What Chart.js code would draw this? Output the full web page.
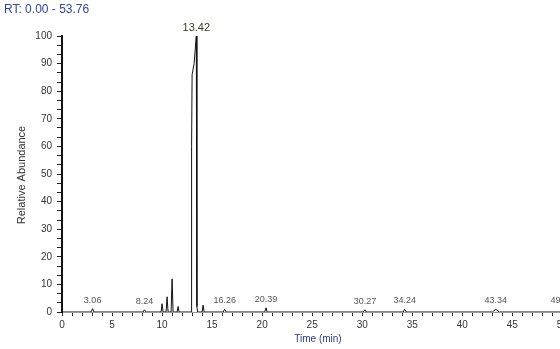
<!DOCTYPE html>
<html>
<head>
<meta charset="utf-8">
<script src="https://cdn.jsdelivr.net/npm/chart.js@4/dist/chart.umd.min.js"></script>
<style>
  html, body { margin: 0; padding: 0; background: #fff; }
  .wrap { width: 560px; height: 349px; overflow: hidden; position: relative; }
  canvas { display: block; }
</style>
</head>
<body>
<div class="wrap">
  <canvas id="tic" width="600" height="349"></canvas>
</div>
<script>
// retention time (min) and relative abundance (%) of the trace
const times = [0, 2.9, 3.06, 3.2, 8.1, 8.24, 8.4, 9.9, 10.0, 10.1, 10.4, 10.5, 10.6,
  10.9, 11.0, 11.1, 11.5, 11.6, 11.7, 12.9, 12.95, 13.0, 13.2, 13.42, 13.48, 13.55,
  14.0, 14.1, 14.2, 16.1, 16.26, 16.4, 20.25, 20.39, 20.5, 30.1, 30.27, 30.4,
  34.1, 34.24, 34.4, 43.0, 43.34, 43.7, 49.8, 49.93, 50.1, 53.76];
const abundance = [0, 0, 1.2, 0, 0, 0.8, 0, 0, 3, 0, 0, 5.5, 0,
  0, 12, 0, 0, 2, 0, 0, 60, 86, 90, 100, 2, 0,
  0, 2.5, 0, 0, 1, 0, 0, 1.5, 0, 0, 0.8, 0,
  0, 1, 0, 0, 1, 0, 0, 1, 0, 0];

// labelled peaks
const peakTimes = [3.06, 8.24, 13.42, 16.26, 20.39, 30.27, 34.24, 43.34, 49.93];
const peakHeights = [1.2, 0.8, 100, 1, 1.5, 0.8, 1, 1, 1];
const peakLabels = ['3.06', '8.24', '13.42', '16.26', '20.39', '30.27', '34.24', '43.34', '49.93'];

const rtRange = [0.00, 53.76];
const yMajor = [0, 10, 20, 30, 40, 50, 60, 70, 80, 90, 100];
const xMajor = [0, 5, 10, 15, 20, 25, 30, 35, 40, 45, 50];

const FONT = "'Liberation Sans', Arial, sans-serif";

const isMajor = (v, list) => list.some(m => Math.abs(m - v) < 1e-6);

const annotations = {
  id: 'annotations',
  afterDraw(chart) {
    const { ctx, scales } = chart;
    ctx.save();
    // peak labels
    ctx.textAlign = 'center';
    ctx.textBaseline = 'bottom';
    peakTimes.forEach((t, i) => {
      const x = scales.x.getPixelForValue(t);
      const y = scales.y.getPixelForValue(peakHeights[i]);
      const big = peakHeights[i] > 50;
      ctx.font = (big ? '11px ' : '9px ') + FONT;
      ctx.fillStyle = big ? '#3a3a22' : '#555';
      ctx.fillText(peakLabels[i], x, y - (big ? 3 : 4));
    });
    // range header
    ctx.font = '12px ' + FONT;
    ctx.textAlign = 'left';
    ctx.textBaseline = 'middle';
    ctx.fillStyle = '#34449a';
    ctx.fillText('RT: ' + rtRange[0].toFixed(2) + ' - ' + rtRange[1].toFixed(2), 4, 10);
    // axis titles
    ctx.font = '10px ' + FONT;
    ctx.fillStyle = '#2a3a80';
    ctx.textAlign = 'center';
    ctx.fillText('Time (min)', 318, 339);
    ctx.translate(22, 175);
    ctx.rotate(-Math.PI / 2);
    ctx.font = '11px ' + FONT;
    ctx.fillStyle = '#333';
    ctx.fillText('Relative Abundance', 0, 0);
    ctx.restore();
  }
};

new Chart(document.getElementById('tic'), {
  type: 'line',
  data: {
    datasets: [{
      data: times.map((t, i) => ({ x: t, y: abundance[i] })),
      borderColor: '#111',
      borderWidth: 1,
      pointRadius: 0,
      tension: 0,
      fill: false
    }]
  },
  options: {
    responsive: false,
    animation: false,
    events: [],
    layout: { padding: { top: 36, left: 0, right: 0, bottom: 0 }, autoPadding: false },
    plugins: { legend: { display: false }, tooltip: { enabled: false } },
    scales: {
      x: {
        type: 'linear',
        min: rtRange[0],
        max: rtRange[1],
        afterFit: s => { s.height = 37; },
        afterBuildTicks: s => {
          const ticks = [];
          for (let i = 0; i <= 53; i++) ticks.push({ value: i });
          s.ticks = ticks;
        },
        border: { color: '#999', width: 1 },
        grid: { drawOnChartArea: false, tickLength: 4, color: '#333' },
        ticks: {
          autoSkip: false,
          maxRotation: 0,
          padding: 3,
          color: '#333',
          font: { family: FONT, size: 10 },
          callback: v => isMajor(v, xMajor) ? String(v) : ''
        }
      },
      y: {
        min: 0,
        max: 100,
        afterFit: s => { s.width = 62; },
        afterBuildTicks: s => {
          const ticks = [];
          for (let i = 0; i <= 30; i++) ticks.push({ value: i * 10 / 3 });
          s.ticks = ticks;
        },
        border: { color: '#111', width: 2 },
        grid: { drawOnChartArea: false, tickLength: 5, color: '#222' },
        ticks: {
          autoSkip: false,
          padding: 5,
          color: '#333',
          font: { family: FONT, size: 10 },
          callback: v => isMajor(v, yMajor) ? String(Math.round(v)) : ''
        }
      }
    }
  },
  plugins: [annotations]
});
</script>
</body>
</html>
